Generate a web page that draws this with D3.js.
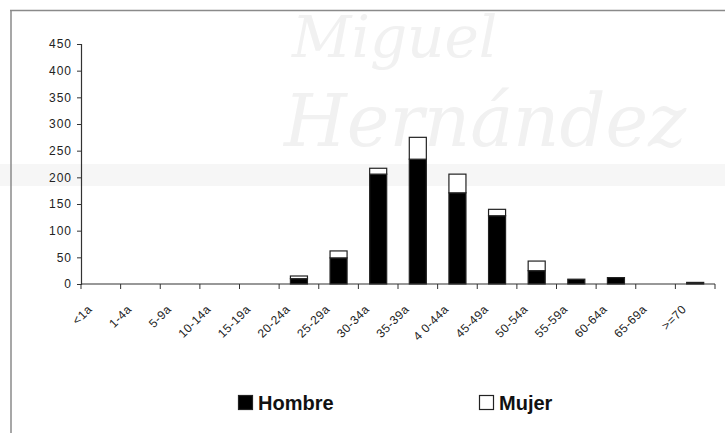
<!DOCTYPE html>
<html>
<head>
<meta charset="utf-8">
<script src="https://cdn.jsdelivr.net/npm/d3@7"></script>
<style>
  html, body { margin: 0; padding: 0; background: #fff; }
  svg { display: block; font-family: "Liberation Sans", Arial, sans-serif; }
</style>
</head>
<body>
<svg id="chart" width="725" height="433"></svg>
<script>
// Age groups and counts per sex
const categories = ["<1a", "1-4a", "5-9a", "10-14a", "15-19a", "20-24a", "25-29a", "30-34a",
                    "35-39a", "4 0-44a", "45-49a", "50-54a", "55-59a", "60-64a", "65-69a", ">=70"];
const hombre = [0, 0, 0, 0, 0, 10, 49, 206, 234, 171, 128, 25, 9, 12, 0, 3];
const mujer  = [0, 0, 0, 0, 0, 5, 13, 11, 41, 35, 12, 18, 0, 0, 0, 0];
const seriesNames = ["Hombre", "Mujer"];
const seriesFill = ["#000000", "#ffffff"];
const yTicks = [0, 50, 100, 150, 200, 250, 300, 350, 400, 450];

const svg = d3.select("#chart");
const W = 725, H = 433;
const plotLeft = 81, plotRight = 715, plotTop = 44, plotBottom = 284;

// Background watermark
const wm = svg.append("g").attr("fill", "#f1f1f1");
wm.append("rect").attr("x", 0).attr("y", 164).attr("width", W).attr("height", 22).attr("fill", "#f6f6f6");
wm.append("text").attr("x", 292).attr("y", 57)
  .attr("font-family", "DejaVu Serif, serif").attr("font-style", "italic")
  .attr("font-size", 58).text("Miguel");
wm.append("text").attr("x", 284).attr("y", 146)
  .attr("font-family", "DejaVu Serif, serif").attr("font-style", "italic")
  .attr("font-size", 72).text("Hernández");

// Frame lines
svg.append("line").attr("x1", 10).attr("x2", W).attr("y1", 10.5).attr("y2", 10.5)
  .attr("stroke", "#8a8a8a").attr("stroke-width", 1.5);
svg.append("line").attr("x1", 11).attr("x2", 11).attr("y1", 10).attr("y2", H)
  .attr("stroke", "#8a8a8a").attr("stroke-width", 1.5);

const x = d3.scaleBand().domain(categories).range([plotLeft, plotRight]).padding(0);
const y = d3.scaleLinear().domain([0, 450]).range([plotBottom, plotTop]);

const rows = categories.map((c, i) => ({ cat: c, Hombre: hombre[i], Mujer: mujer[i] }));
const stacked = d3.stack().keys(seriesNames)(rows);

const barW = x.bandwidth() * 0.43;
stacked.forEach((layer, k) => {
  svg.append("g").selectAll("rect")
    .data(layer.filter(d => d[1] - d[0] > 0))
    .join("rect")
    .attr("x", d => x(d.data.cat) + (x.bandwidth() - barW) / 2)
    .attr("y", d => y(d[1]))
    .attr("width", barW)
    .attr("height", d => y(d[0]) - y(d[1]))
    .attr("fill", seriesFill[k])
    .attr("stroke", "#222")
    .attr("stroke-width", 1.2);
});

// Y axis
const yAxis = svg.append("g").attr("transform", `translate(${plotLeft},0)`)
  .call(d3.axisLeft(y).tickValues(yTicks).tickSize(4).tickPadding(5));
yAxis.select(".domain").attr("stroke", "#333").attr("stroke-width", 1.2);
yAxis.selectAll(".tick line").attr("stroke", "#333");
yAxis.selectAll("text").attr("font-size", 12).attr("fill", "#222")
  .attr("letter-spacing", 1)
  .attr("font-family", "Liberation Sans, Arial, sans-serif");

// X axis: ticks at group boundaries
const xAxis = svg.append("g");
xAxis.append("line").attr("x1", plotLeft).attr("x2", plotRight).attr("y1", plotBottom).attr("y2", plotBottom)
  .attr("stroke", "#333").attr("stroke-width", 1.2);
const bounds = categories.map(c => x(c)).concat([x(categories[categories.length - 1]) + x.bandwidth()]);
xAxis.selectAll("line.tk").data(bounds).join("line").attr("class", "tk")
  .attr("x1", d => d).attr("x2", d => d).attr("y1", plotBottom).attr("y2", plotBottom + 5)
  .attr("stroke", "#333");
xAxis.selectAll("text").data(categories).join("text")
  .attr("transform", c => `translate(${x(c) + x.bandwidth() / 2 - 8},${plotBottom + 26}) rotate(-45)`)
  .attr("text-anchor", "end")
  .attr("font-size", 12)
  .attr("letter-spacing", 0.5)
  .attr("fill", "#222")
  .text(c => c);

// Legend
const legend = [{ name: "Hombre", fill: "#000", x: 238 }, { name: "Mujer", fill: "#fff", x: 479 }];
const lg = svg.append("g").selectAll("g").data(legend).join("g")
  .attr("transform", d => `translate(${d.x},395)`);
lg.append("rect").attr("x", 0.5).attr("y", 0.5).attr("width", 14).attr("height", 14)
  .attr("fill", d => d.fill).attr("stroke", "#222").attr("stroke-width", 1.2);
lg.append("text").attr("x", 20).attr("y", 14.5).attr("font-size", 20).attr("font-weight", "bold")
  .attr("fill", "#111").text(d => d.name);
</script>
</body>
</html>
